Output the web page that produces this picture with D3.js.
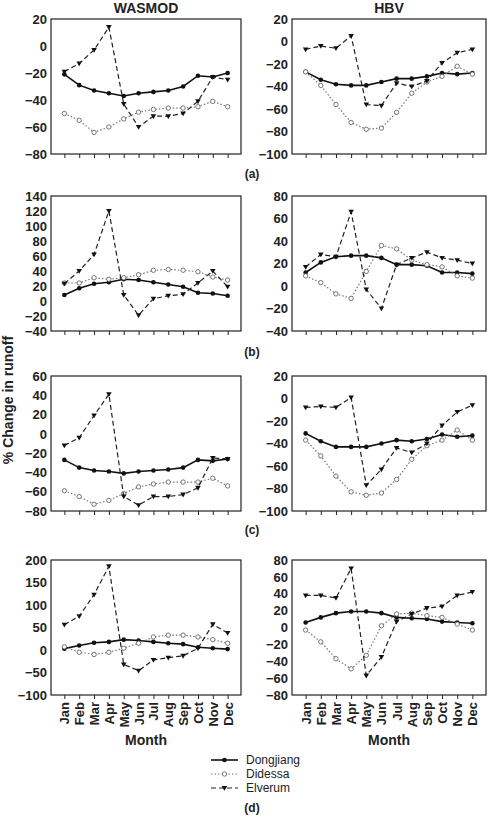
<!DOCTYPE html>
<html lang="en">
<head>
<meta charset="utf-8">
<script src="https://cdn.jsdelivr.net/npm/d3@7"></script>
<style>
  body { margin: 0; background: #fff; }
  text { font-family: "Liberation Sans", Arial, sans-serif; }
</style>
</head>
<body>
<svg id="chart" width="492" height="818"></svg>
<script>
// Data
var months = ["Jan","Feb","Mar","Apr","May","Jun","Jul","Aug","Sep","Oct","Nov","Dec"];
var seriesNames = ["Dongjiang", "Didessa", "Elverum"];
var rowLabels = ["(a)", "(b)", "(c)", "(d)"];

var aWasD = [-21,-29,-33,-35,-37,-35,-34,-33,-30,-22,-23,-20];
var aWasDi = [-50,-55,-64,-60,-54,-49,-47,-46,-46,-45,-41,-45];
var aWasE = [-19,-13,-3,14,-43,-60,-52,-52,-50,-41,-23,-25];
var aHbvD = [-27,-34,-38,-39,-39,-36,-33,-33,-31,-28,-29,-28];
var aHbvDi = [-27,-39,-56,-72,-78,-77,-63,-46,-36,-31,-22,-29];
var aHbvE = [-7,-4,-6,5,-56,-57,-37,-40,-35,-19,-10,-7];

var bWasD = [8,17,23,25,29,28,25,22,19,11,10,7];
var bWasDi = [24,24,31,29,31,35,41,42,41,39,32,28];
var bWasE = [23,40,62,120,8,-19,3,7,9,24,40,19];
var bHbvD = [12,21,26,27,27,25,19,19,18,12,12,11];
var bHbvDi = [9,3,-7,-11,13,36,33,23,19,17,9,7];
var bHbvE = [17,28,26,66,-3,-20,19,25,30,25,23,20];

var cWasD = [-27,-35,-38,-39,-41,-39,-38,-37,-35,-27,-28,-26];
var cWasDi = [-59,-65,-73,-69,-62,-55,-52,-50,-50,-50,-46,-54];
var cWasE = [-12,-4,19,41,-65,-74,-65,-65,-63,-56,-25,-26];
var cHbvD = [-31,-38,-43,-43,-43,-40,-37,-38,-36,-32,-34,-33];
var cHbvDi = [-37,-51,-69,-83,-86,-84,-72,-54,-42,-37,-28,-37];
var cHbvE = [-8,-7,-8,1,-77,-63,-44,-48,-40,-24,-12,-6];

var dWasD = [3,10,16,18,23,21,18,15,13,6,4,2];
var dWasDi = [7,-5,-10,-5,4,15,29,33,33,29,23,15];
var dWasE = [56,75,123,186,-32,-46,-22,-17,-13,4,57,38];
var dHbvD = [6,12,17,19,19,17,12,11,10,7,6,5];
var dHbvDi = [-3,-17,-37,-49,-33,2,16,17,14,12,4,-3];
var dHbvE = [38,38,35,70,-57,-35,7,16,23,25,38,42];

// y domains and tick step per panel
var domWas = [[-80,20,20],[-40,140,20],[-80,60,20],[-100,200,50]];
var domHbv = [[-100,20,20],[-40,80,20],[-100,20,20],[-80,80,20]];

var panels = [
  {row:0, col:0, dom:domWas[0], s:[aWasD,aWasDi,aWasE]},
  {row:0, col:1, dom:domHbv[0], s:[aHbvD,aHbvDi,aHbvE]},
  {row:1, col:0, dom:domWas[1], s:[bWasD,bWasDi,bWasE]},
  {row:1, col:1, dom:domHbv[1], s:[bHbvD,bHbvDi,bHbvE]},
  {row:2, col:0, dom:domWas[2], s:[cWasD,cWasDi,cWasE]},
  {row:2, col:1, dom:domHbv[2], s:[cHbvD,cHbvDi,cHbvE]},
  {row:3, col:0, dom:domWas[3], s:[dWasD,dWasDi,dWasE]},
  {row:3, col:1, dom:domHbv[3], s:[dHbvD,dHbvDi,dHbvE]}
];

var rowTop = [19, 196, 376, 560];
var rowH = 135;
var colX = [[51, 241], [292, 486]];
var labelY = [178, 356, 534, 812];

var dash = [null, "1.5,2", "5,3"];
var stroke = ["#111", "#777", "#222"];

var svg = d3.select("#chart");

panels.forEach(function(p) {
  var x0 = colX[p.col][0], x1 = colX[p.col][1];
  var y0 = rowTop[p.row], y1 = y0 + rowH;
  var x = d3.scalePoint().domain(months).range([x0, x1]).padding(0.9);
  var y = d3.scaleLinear().domain([p.dom[0], p.dom[1]]).range([y1, y0]);
  var g = svg.append("g");

  g.append("rect").attr("x", x0).attr("y", y0).attr("width", x1 - x0).attr("height", rowH)
    .attr("fill", "none").attr("stroke", "#222").attr("stroke-width", 1.2);

  var yAxis = g.append("g").attr("transform", "translate(" + x0 + ",0)")
    .call(d3.axisLeft(y).tickValues(d3.range(p.dom[0], p.dom[1] + 1, p.dom[2])).tickSize(0).tickPadding(4));
  yAxis.select(".domain").remove();
  yAxis.selectAll("text").attr("font-size", 13).attr("font-weight", "bold").attr("fill", "#222");

  var xAxis = g.append("g").attr("transform", "translate(0," + y1 + ")")
    .call(d3.axisBottom(x).tickSize(4).tickPadding(3));
  xAxis.select(".domain").remove();
  xAxis.selectAll("line").attr("stroke", "#222");
  if (p.row < 3) {
    xAxis.selectAll("text").remove();
  } else {
    xAxis.selectAll("text").attr("font-size", 13).attr("font-weight", "bold").attr("fill", "#222")
      .attr("transform", "rotate(-90)").attr("text-anchor", "end")
      .attr("dx", 0).attr("dy", "0.35em").attr("y", 0).attr("x", -7);
    g.append("text").attr("x", (x0 + x1) / 2).attr("y", 745).attr("text-anchor", "middle")
      .attr("font-size", 14).attr("font-weight", "bold").attr("fill", "#222").text("Month");
  }

  var line = d3.line().x(function(d, i) { return x(months[i]); }).y(function(d) { return y(d); });
  p.s.forEach(function(vals, k) {
    g.append("path").datum(vals).attr("d", line).attr("fill", "none")
      .attr("stroke", stroke[k]).attr("stroke-width", k === 0 ? 1.6 : 1.2)
      .attr("stroke-dasharray", dash[k]);
    drawMarkers(g, vals.map(function(v, i) { return [x(months[i]), y(v)]; }), k);
  });
});

function drawMarkers(g, pts, k) {
  pts.forEach(function(pt) {
    if (k === 0) {
      g.append("circle").attr("cx", pt[0]).attr("cy", pt[1]).attr("r", 2.3).attr("fill", "#111");
    } else if (k === 1) {
      g.append("circle").attr("cx", pt[0]).attr("cy", pt[1]).attr("r", 2.2)
        .attr("fill", "#fff").attr("stroke", "#666").attr("stroke-width", 0.9);
    } else {
      g.append("path").attr("transform", "translate(" + pt[0] + "," + pt[1] + ")")
        .attr("d", "M-2.8,-2L2.8,-2L0,2.8Z").attr("fill", "#111");
    }
  });
}

// column titles
svg.append("text").attr("x", 146).attr("y", 13).attr("text-anchor", "middle")
  .attr("font-size", 14).attr("font-weight", "bold").attr("fill", "#222").text("WASMOD");
svg.append("text").attr("x", 389).attr("y", 13).attr("text-anchor", "middle")
  .attr("font-size", 14).attr("font-weight", "bold").attr("fill", "#222").text("HBV");

// row labels
rowLabels.forEach(function(l, i) {
  svg.append("text").attr("x", 252).attr("y", labelY[i]).attr("text-anchor", "middle")
    .attr("font-family", "Liberation Serif, serif").attr("font-size", 12).attr("font-weight", "bold")
    .attr("fill", "#222").text(l);
});

// y title
svg.append("text").attr("transform", "translate(13,400) rotate(-90)").attr("text-anchor", "middle")
  .attr("font-size", 14).attr("font-weight", "bold").attr("fill", "#222").text("% Change in runoff");

// legend
seriesNames.forEach(function(n, k) {
  var ly = 760 + k * 14;
  svg.append("line").attr("x1", 211).attr("x2", 238).attr("y1", ly).attr("y2", ly)
    .attr("stroke", stroke[k]).attr("stroke-width", k === 0 ? 1.6 : 1.2).attr("stroke-dasharray", dash[k]);
  drawMarkers(svg, [[224.5, ly]], k);
  svg.append("text").attr("x", 246).attr("y", ly + 4).attr("font-size", 12)
    .attr("fill", "#222").text(n);
});
</script>
</body>
</html>
